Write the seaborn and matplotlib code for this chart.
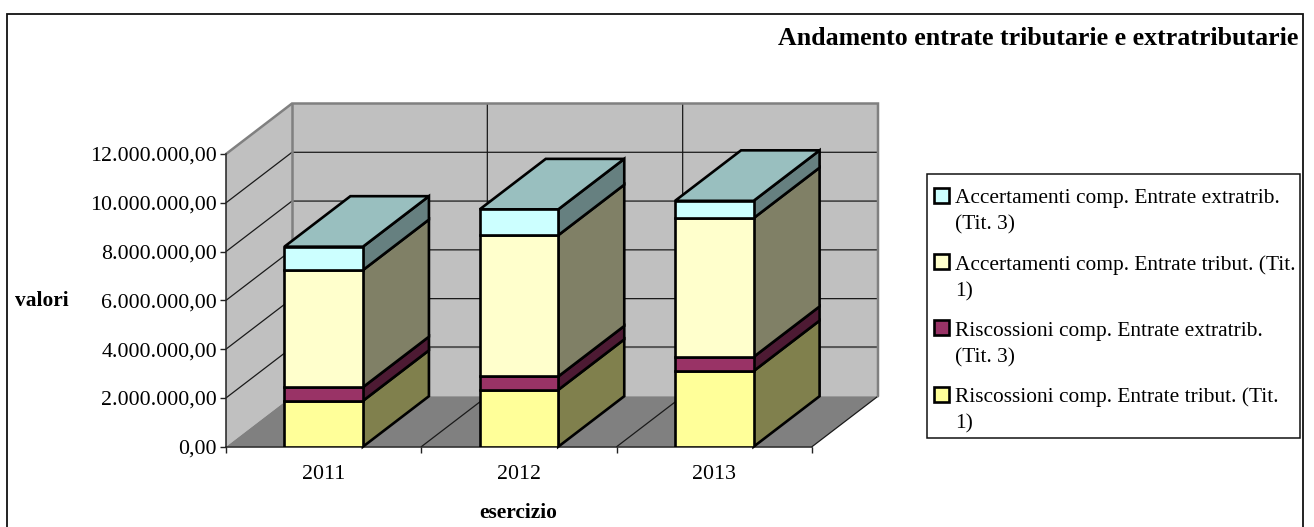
import numpy as np
import pandas as pd
import matplotlib
matplotlib.use('Agg')
import matplotlib.pyplot as plt
import seaborn as sns
from matplotlib.legend_handler import HandlerPatch
from matplotlib.patches import Patch, Polygon, Rectangle

# data (segment heights, stacked bottom to top)
anni = ['2011', '2012', '2013']
riscossioni_tribut = [1880000, 2330000, 3100000]
riscossioni_extra = [560000, 550000, 580000]
accertamenti_tribut = [4800000, 5790000, 5690000]
accertamenti_extra = [960000, 1060000, 710000]

nomi_serie = ['Riscossioni comp. Entrate tribut. (Tit.\n1)',
              'Riscossioni comp. Entrate extratrib.\n(Tit. 3)',
              'Accertamenti comp. Entrate tribut. (Tit.\n1)',
              'Accertamenti comp. Entrate extratrib.\n(Tit. 3)']
colori = ['#FFFF99', '#993366', '#FFFFCC', '#CCFFFF']
colori_lato = ['#80804D', '#4D1A33', '#808066', '#668080']
colore_tetto = '#99BFBF'

y_ticks = [0, 2000000, 4000000, 6000000, 8000000, 10000000, 12000000]
y_labels = ['0,00', '2.000.000,00', '4.000.000,00', '6.000.000,00',
            '8.000.000,00', '10.000.000,00', '12.000.000,00']

df = pd.DataFrame({'esercizio': anni, 's0': riscossioni_tribut, 's1': riscossioni_extra,
                   's2': accertamenti_tribut, 's3': accertamenti_extra})

sns.set_theme(style='white')
plt.rcParams['font.family'] = ['Liberation Serif', 'DejaVu Sans']
plt.rcParams['text.color'] = 'black'

W, H = 1314, 527
FONT = 15.75
FONT_LEG = 15.4
LW = 1.9
fig = plt.figure(figsize=(W / 100, H / 100), dpi=100, facecolor='white')
ax = fig.add_axes([226 / W, 1 - 446.7 / H, 586 / W, 292.7 / H], facecolor='none')
ax.set_xlim(-0.5, 2.5)
ax.set_ylim(0, 12000000)

# depth of the fake 3D box, in data units
DX = 66 / (586 / 3)
DY = 50.5 / (292.7 / 12000000)
x0, x1 = -0.5, 2.5
ymax = 12000000

# cornice, the bottom side falls outside the picture
fig.add_artist(Rectangle((6.5 / W, 1 - 535 / H), 1296 / W, 521 / H, fill=False,
                         edgecolor='#111111', linewidth=1.3, transform=fig.transFigure))

# walls and floor
ax.add_patch(Polygon([(x0, 0), (x0, ymax), (x0 + DX, ymax + DY), (x0 + DX, DY)],
                     facecolor='#C0C0C0', edgecolor='none', clip_on=False, zorder=1))
ax.add_patch(Polygon([(x0 + DX, DY), (x0 + DX, ymax + DY), (x1 + DX, ymax + DY), (x1 + DX, DY)],
                     facecolor='#C0C0C0', edgecolor='none', clip_on=False, zorder=1))
ax.add_patch(Polygon([(x0, 0), (x1, 0), (x1 + DX, DY), (x0 + DX, DY)],
                     facecolor='#808080', edgecolor='none', clip_on=False, zorder=1))

# gridlines on the walls and on the floor
griglia = dict(color='#1a1a1a', linewidth=0.9, clip_on=False, zorder=2)
for v in y_ticks[1:-1]:
    ax.plot([x0, x0 + DX, x1 + DX], [v, v + DY, v + DY], **griglia)
for c in [0.5, 1.5]:
    ax.plot([c, c + DX, c + DX], [0, DY, ymax + DY], **griglia)
ax.plot([x1, x1 + DX], [0, DY], **griglia)
# this one reads greyer and thicker on the back wall
ax.plot([x0 + DX, x1 + DX], [y_ticks[1] + DY, y_ticks[1] + DY], color='#5a5a5a', linewidth=1.4,
        clip_on=False, zorder=2)

# grey outline of the walls
bordo = dict(color='#808080', linewidth=1.8, clip_on=False, zorder=3, solid_joinstyle='miter')
ax.plot([x0, x0 + DX, x1 + DX, x1 + DX], [ymax, ymax + DY, ymax + DY, DY], **bordo)
ax.plot([x0 + DX, x0 + DX], [DY, ymax + DY], **bordo)

# front faces through seaborn, sides and top from the same values
larg = 0.402
base = np.zeros(len(anni))
for i, col in enumerate(['s0', 's1', 's2', 's3']):
    sns.barplot(data=df, x='esercizio', y=col, order=anni, bottom=base, color=colori[i],
                saturation=1, width=larg, edgecolor='black', linewidth=LW,
                errorbar=None, ax=ax, zorder=6)
    top = base + df[col].values
    for k in range(len(anni)):
        xr = k + larg / 2
        ax.add_patch(Polygon([(xr, base[k]), (xr + DX, base[k] + DY), (xr + DX, top[k] + DY), (xr, top[k])],
                             facecolor=colori_lato[i], edgecolor='black', linewidth=LW,
                             joinstyle='miter', clip_on=False, zorder=5))
    base = top
for k in range(len(anni)):
    xl, xr = k - larg / 2, k + larg / 2
    ax.add_patch(Polygon([(xl, base[k]), (xr, base[k]), (xr + DX, base[k] + DY), (xl + DX, base[k] + DY)],
                         facecolor=colore_tetto, edgecolor='black', linewidth=LW,
                         joinstyle='miter', clip_on=False, zorder=5))

# axes
for s in ['top', 'right']:
    ax.spines[s].set_visible(False)
for s in ['left', 'bottom']:
    ax.spines[s].set_color('#222222')
    ax.spines[s].set_linewidth(1.1)
    ax.spines[s].set_zorder(4)
ax.set_yticks(y_ticks)
ax.set_yticklabels(y_labels, fontsize=FONT, color='black')
ax.set_xticks(range(len(anni)))
ax.set_xticklabels(anni, fontsize=FONT, color='black')
ax.set_xticks([-0.5, 0.5, 1.5, 2.5], minor=True)
ax.tick_params(axis='y', which='major', left=True, length=4.5, width=1, color='#222222', pad=2)
ax.tick_params(axis='x', which='major', bottom=False, length=0, pad=13.5)
ax.tick_params(axis='x', which='minor', bottom=True, length=4.5, width=1, color='#222222')

ax.set_ylabel('valori', fontsize=15.4, fontweight='bold', color='black', rotation=0, ha='center', va='center')
ax.yaxis.set_label_coords((41.5 - 226) / 586, (446.7 - 301) / 292.7)
ax.set_xlabel('esercizio', fontsize=15.4, fontweight='bold', color='black', ha='center', va='center')
ax.xaxis.set_label_coords((518.5 - 226) / 586, (446.7 - 513) / 292.7)

fig.text(1298 / W, 1 - 45 / H, 'Andamento entrate tributarie e extratributarie',
         ha='right', va='baseline', fontsize=18.6, fontweight='bold', color='black')


def quadratino(legend, orig_handle, xdescent, ydescent, width, height, fontsize):
    # swatch sits next to the first line of the label
    return Rectangle((-xdescent, -ydescent + 11.6), width, height)


# legend, top series first
fig.add_artist(Rectangle((927.3 / W, 1 - 438.3 / H), 372.7 / W, 264 / H, facecolor='white',
                         edgecolor='#111111', linewidth=1.1, transform=fig.transFigure))
handles = [Patch(facecolor=c, edgecolor='black', linewidth=LW) for c in colori[::-1]]
leg = fig.legend(handles, nomi_serie[::-1], loc='upper left',
                 bbox_to_anchor=(934 / W, 1 - 189 / H), bbox_transform=fig.transFigure,
                 fontsize=FONT_LEG, frameon=False,
                 handlelength=0.7, handleheight=0.7, handletextpad=0.3,
                 labelspacing=0.955, borderpad=0, borderaxespad=0,
                 handler_map={Patch: HandlerPatch(patch_func=quadratino)})
for t in leg.get_texts():
    t.set_linespacing(1.51)
    t.set_color('black')

plt.savefig('out.png', dpi=100)
plt.close()
